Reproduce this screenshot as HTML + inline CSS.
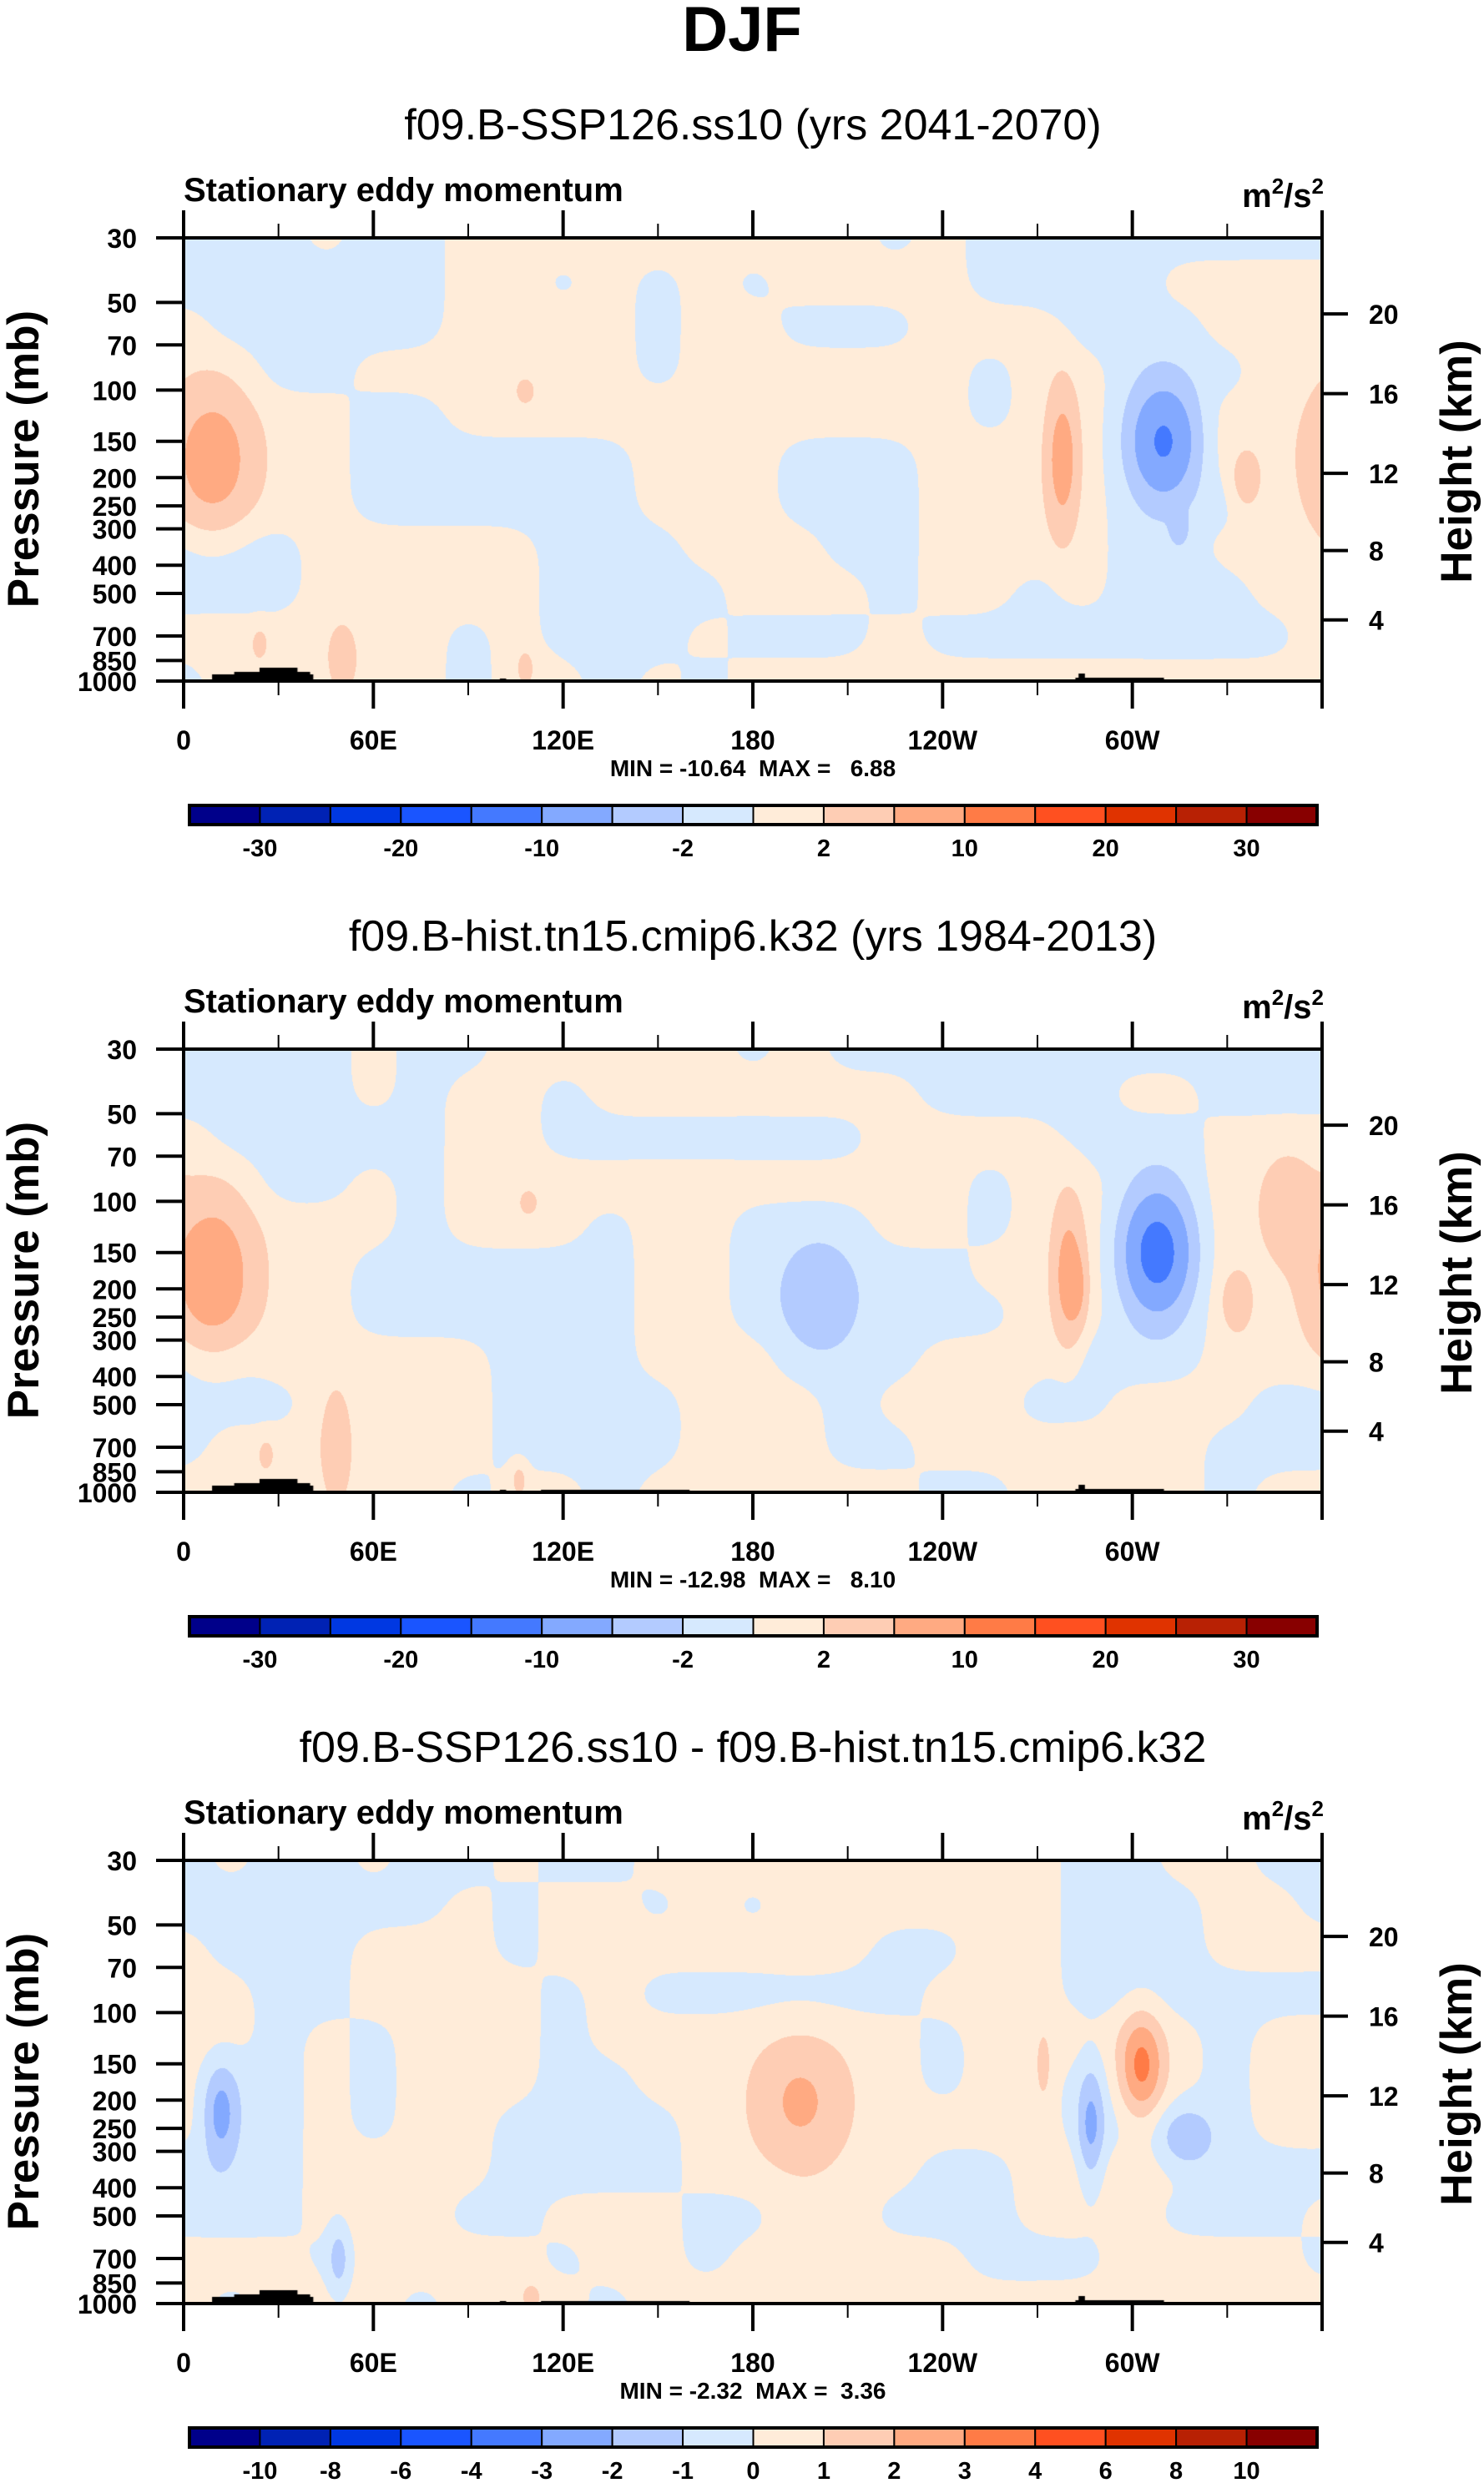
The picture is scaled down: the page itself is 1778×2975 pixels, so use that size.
<!DOCTYPE html>
<html><head><meta charset="utf-8">
<style>
html,body{margin:0;padding:0;background:#fff;}
#root{position:relative;width:1778px;height:2975px;overflow:hidden;background:#fff;}
canvas{position:absolute;}
svg{position:absolute;left:0;top:0;}
text{font-family:"Liberation Sans",Arial,sans-serif;}
</style></head>
<body>
<div id="root">
<canvas id="c0" width="1364" height="531" style="left:220px;top:285px"></canvas>
<canvas id="c1" width="1364" height="531" style="left:220px;top:1257px"></canvas>
<canvas id="c2" width="1364" height="531" style="left:220px;top:2229px"></canvas>
<svg id="ov" width="1778" height="2975" xmlns="http://www.w3.org/2000/svg">
<text x="889" y="61" font-size="76" font-weight="bold" text-anchor="middle">DJF</text>
</svg>
</div>
<script>
// ---------- DATA ----------
const pressureTicks=[30,50,70,100,150,200,250,300,400,500,700,850,1000];
const heightTicks=[4,8,12,16,20];
const lonTicks=[0,60,120,180,240,300];
const lonTickLabels=['0','60E','120E','180','120W','60W'];
const levelsAbs=[-30,-25,-20,-15,-10,-5,-2,0,2,5,10,15,20,25,30];
const levelsDiff=[-10,-8,-6,-4,-3,-2,-1,0,1,2,3,4,6,8,10];
const cbLabelsAbs=['-30','-20','-10','-2','2','10','20','30'];
const cbLabelIdxAbs=[1,3,5,7,9,11,13,15];
const cbLabelsDiff=['-10','-8','-6','-4','-3','-2','-1','0','1','2','3','4','6','8','10'];
const cbLabelIdxDiff=[1,2,3,4,5,6,7,8,9,10,11,12,13,14,15];
const palette=['#00008a','#0022b4','#0038e2','#1a55ff','#4479ff','#83a9ff','#b3cbff','#d6e9fe','#ffecd9','#fecdb4','#ffaa82','#ff7b46','#ff5020','#e03300','#b82104','#880000'];
const subtitles=['f09.B-SSP126.ss10 (yrs 2041-2070)','f09.B-hist.tn15.cmip6.k32 (yrs 1984-2013)','f09.B-SSP126.ss10 - f09.B-hist.tn15.cmip6.k32'];
const minmaxText=['MIN = -10.64  MAX =   6.88','MIN = -12.98  MAX =   8.10','MIN = -2.32  MAX =  3.36'];

// background sign grid: columns every 15 deg lon (0..360), rows evenly spaced in log-p (30mb top .. 1000mb bottom)
const grid1=[
[-1,-1,-1,1,-1,-1,1,1,1,1,1,1,1,1,1,-1,1,-1,-1,-1,-1,-1,-1,-1,-1],
[-1,-1,-1,-1,-1,-1,1,1,-1,1,-1,1,-1,1,1,1,1,-1,-1,-1,-1,1,1,1,1],
[1,-1,-1,-1,-1,-1,1,1,1,1,-1,1,1,-1,-1,-1,1,1,1,-1,-1,-1,1,1,1],
[1,1,-1,-1,1,1,1,1,1,1,-1,1,1,1,1,1,1,-1,1,1,-1,-1,-1,1,1],
[1,1,1,1,-1,-1,1,1,1,1,1,1,1,1,1,1,1,-1,1,1,-1,-1,1,1,1],
[1,1,1,1,-1,-1,-1,-1,-1,-1,1,1,1,-1,-1,-1,1,1,1,1,-1,-1,1,1,1],
[1,1,1,1,-1,-1,-1,-1,-1,-1,1,1,1,-1,-1,-1,1,1,1,1,-1,-1,-1,1,1],
[-1,-1,-1,1,1,1,1,1,-1,-1,-1,1,1,1,-1,-1,1,1,1,1,-1,-1,1,1,1],
[-1,-1,-1,1,1,1,1,1,-1,-1,-1,-1,1,1,1,-1,1,1,-1,1,-1,-1,-1,1,1],
[1,1,1,1,1,1,-1,1,-1,-1,-1,1,-1,-1,-1,1,-1,-1,-1,-1,-1,-1,-1,-1,1],
[-1,1,-1,1,1,1,-1,1,1,-1,1,-1,1,1,1,1,1,1,1,1,1,1,1,1,1]];
const grid2=[
[-1,-1,-1,-1,1,-1,-1,1,1,1,1,1,-1,1,-1,-1,-1,-1,-1,-1,-1,-1,-1,-1,-1],
[-1,-1,-1,-1,1,-1,1,1,-1,1,1,1,1,1,1,1,-1,-1,-1,-1,1,1,-1,-1,-1],
[1,-1,-1,-1,-1,-1,1,1,-1,-1,-1,-1,-1,-1,-1,1,1,1,1,-1,-1,-1,1,1,1],
[1,1,-1,-1,1,-1,1,1,1,1,1,1,1,1,1,1,1,-1,1,1,-1,-1,1,1,1],
[1,1,1,1,1,-1,1,1,1,-1,1,1,-1,-1,-1,1,1,-1,1,1,-1,-1,1,1,1],
[1,1,1,1,-1,-1,-1,-1,-1,-1,1,1,-1,-1,-1,-1,-1,1,1,1,-1,-1,1,1,1],
[1,1,1,1,-1,-1,-1,-1,-1,-1,1,1,-1,-1,-1,-1,-1,-1,1,1,-1,-1,1,1,1],
[-1,-1,1,1,1,1,1,-1,-1,-1,1,1,1,-1,-1,-1,1,1,1,-1,-1,-1,1,1,1],
[-1,-1,-1,1,1,1,1,-1,-1,-1,-1,1,1,1,-1,1,1,1,-1,-1,1,1,1,-1,-1],
[-1,1,1,1,1,1,1,-1,-1,-1,-1,1,1,1,-1,-1,1,1,1,1,1,1,-1,-1,-1],
[1,1,-1,1,1,1,-1,1,1,-1,1,1,1,1,1,1,-1,-1,1,1,1,1,-1,1,1]];
const grid3=[
[-1,1,-1,-1,1,-1,-1,1,-1,-1,1,1,1,1,1,1,1,1,1,-1,-1,1,1,-1,-1],
[-1,-1,-1,-1,-1,-1,1,-1,1,1,-1,1,-1,1,1,1,1,1,1,-1,-1,-1,1,1,-1],
[1,-1,-1,-1,1,1,1,-1,1,1,1,1,1,1,1,-1,-1,1,1,-1,-1,-1,1,1,1],
[1,1,-1,-1,1,1,1,1,-1,1,-1,-1,-1,-1,-1,-1,1,1,1,-1,-1,-1,-1,-1,-1],
[1,1,-1,1,-1,1,1,1,-1,1,1,1,1,1,1,1,-1,1,1,1,1,1,-1,1,1],
[1,-1,-1,1,-1,1,1,1,-1,-1,1,1,1,1,1,1,-1,1,1,-1,1,1,-1,1,1],
[1,-1,-1,1,-1,1,1,-1,-1,-1,-1,1,1,1,1,1,1,1,1,-1,-1,-1,-1,1,1],
[-1,-1,-1,1,1,1,1,-1,-1,-1,-1,1,1,1,1,1,-1,-1,1,1,1,1,-1,-1,-1],
[-1,-1,-1,1,1,1,-1,-1,1,1,1,-1,-1,1,1,-1,-1,-1,1,1,1,-1,-1,-1,1],
[1,1,1,-1,1,1,1,1,-1,1,1,-1,1,1,1,1,1,-1,-1,-1,1,1,1,1,-1],
[1,-1,1,1,1,-1,1,1,1,-1,1,1,1,1,1,1,1,1,1,1,1,1,1,1,1]];
const gridScale=[1,1,0.5];

// localized extrema (centre lon, centre pressure mb, amplitude)
const peakLon1=[9,310,278,336,108,50,24,108,315];
const peakP1=[173,150,173,206,101,838,754,900,303];
const peakAmp1=[6.4,-9.9,6.3,3.0,2.5,3.2,2.5,2.5,-2.6];
const peakSpreadLon1=[9,7,3.5,3.5,2,3,2,2,2];
const peakSpreadP1=[0.11,0.085,0.11,0.05,0.02,0.05,0.03,0.03,0.025];

const peakLon2=[9,349,308,280,283,333,201,109,48,26,106];
const peakP2=[179,106,150,179,200,221,213,101,704,754,900];
const peakAmp2=[7.2,3.0,-12.2,6.2,2.5,3.0,-3.4,2.4,4.0,2.5,2.5];
const peakSpreadLon2=[9,6,7,3.5,2,3.5,8,2,3,2,2];
const peakSpreadP2=[0.12,0.08,0.09,0.11,0.05,0.05,0.08,0.02,0.08,0.03,0.03];

const peakLon3=[11.5,195,303,287,317,272,49,110];
const peakP3=[221,203,153,250,273,153,704,949];
const peakAmp3=[-2.2,1.7,2.9,-2.1,-1.6,1.3,-1.5,1.3];
const peakSpreadLon3=[4,11,5,3,6,1.5,2.5,2];
const peakSpreadP3=[0.08,0.11,0.09,0.1,0.05,0.05,0.06,0.02];

// ---------- LAYOUT ----------
const PL=220, PR=1584, PW=PR-PL, PH=531;
const panelTops=[285,1257,2229];
const LNP=Math.log(1000/30);
function fyOfP(p){return Math.log(p/30)/LNP;}
function yOfP(top,p){return top+fyOfP(p)*PH;}
function xOfLon(l){return PL+l/360*PW;}
function pOfKm(z){const m=z*1000;return m<=11000?1013.25*Math.pow(1-2.25577e-5*m,5.2559):226.32*Math.exp(-(m-11000)/6341.6);}

const panels=[
 {grid:grid1,lon:peakLon1,p:peakP1,amp:peakAmp1,sl:peakSpreadLon1,sp:peakSpreadP1,levels:levelsAbs},
 {grid:grid2,lon:peakLon2,p:peakP2,amp:peakAmp2,sl:peakSpreadLon2,sp:peakSpreadP2,levels:levelsAbs},
 {grid:grid3,lon:peakLon3,p:peakP3,amp:peakAmp3,sl:peakSpreadLon3,sp:peakSpreadP3,levels:levelsDiff}];

function hexToRgb(h){return [parseInt(h.substr(1,2),16),parseInt(h.substr(3,2),16),parseInt(h.substr(5,2),16)];}
const palRgb=palette.map(hexToRgb);
const SIG=0.55;

panels.forEach((pn,k)=>{
  const cv=document.getElementById('c'+k); const ctx=cv.getContext('2d');
  const img=ctx.createImageData(PW,PH);
  const g=pn.grid, nC=g[0].length, nR=g.length;
  const wx=[];
  for(let x=0;x<PW;x++){
    const gx=x/(PW-1)*(nC-1); const w=new Float32Array(nC); let s=0;
    for(let i=0;i<nC;i++){const d=(gx-i)/SIG;const v=Math.exp(-0.5*d*d);w[i]=v;s+=v;}
    for(let i=0;i<nC;i++)w[i]/=s;
    wx.push(w);
  }
  const blobX=[];
  for(let b=0;b<pn.amp.length;b++){
    const arr=new Float32Array(PW);
    for(let x=0;x<PW;x++){let dl=Math.abs(x/(PW-1)*360-pn.lon[b]); if(dl>180)dl=360-dl; arr[x]=Math.exp(-dl*dl/(2*pn.sl[b]*pn.sl[b]));}
    blobX.push(arr);
  }
  const row=new Float32Array(nC);
  for(let y=0;y<PH;y++){
    const fy=y/(PH-1); const gy=fy*(nR-1);
    let s=0; const wy=[];
    for(let j=0;j<nR;j++){const d=(gy-j)/SIG;const v=Math.exp(-0.5*d*d);wy.push(v);s+=v;}
    for(let i=0;i<nC;i++){let acc=0;for(let j=0;j<nR;j++)acc+=wy[j]*g[j][i];row[i]=acc/s*gridScale[k];}
    const by=pn.amp.map((a,b)=>{const df=fy-fyOfP(pn.p[b]);return a*Math.exp(-df*df/(2*pn.sp[b]*pn.sp[b]));});
    for(let x=0;x<PW;x++){
      const w=wx[x]; let v=0;
      for(let i=0;i<nC;i++)v+=w[i]*row[i];
      for(let b=0;b<by.length;b++)v+=by[b]*blobX[b][x];
      let c=0; while(c<pn.levels.length && v>=pn.levels[c]) c++;
      const rgb=palRgb[c]; const o=(y*PW+x)*4;
      img.data[o]=rgb[0];img.data[o+1]=rgb[1];img.data[o+2]=rgb[2];img.data[o+3]=255;
    }
  }
  ctx.putImageData(img,0,0);
  ctx.fillStyle='#000';
  const tx=l=>l/360*PW;
  ctx.fillRect(tx(9),PH-8,tx(41)-tx(9),8);
  ctx.fillRect(tx(16),PH-11,tx(40)-tx(16),11);
  ctx.fillRect(tx(24),PH-16,tx(36)-tx(24),16);
  ctx.fillRect(tx(100),PH-3,tx(102)-tx(100),3);
  ctx.fillRect(tx(282),PH-4,tx(310)-tx(282),4);
  ctx.fillRect(tx(283),PH-9,tx(285)-tx(283),9);
  if(k>0){ctx.fillRect(tx(113),PH-3,tx(160)-tx(113),3);}
});

// ---------- SVG AXES ----------
const NS='http://www.w3.org/2000/svg';
const ov=document.getElementById('ov');
function mk(tag,attrs,parent){const e=document.createElementNS(NS,tag);for(const a in attrs)e.setAttribute(a,attrs[a]);(parent||ov).appendChild(e);return e;}

panelTops.forEach((top,k)=>{
  const off=top-285;
  const g=mk('g',{});
  
  
  const st=mk('text',{x:902,y:167+off,'font-size':52,'text-anchor':'middle'},g);
  st.textContent=subtitles[k];
  
  
  const lt=mk('text',{x:220,y:241+off,'font-size':40,'font-weight':'bold'},g);
  lt.textContent='Stationary eddy momentum';
  
  
  const un=mk('text',{x:1586,y:248+off,'font-size':40,'font-weight':'bold','text-anchor':'end'},g);
  un.innerHTML='m<tspan dy="-16" font-size="26">2</tspan><tspan dy="16">/s</tspan><tspan dy="-16" font-size="26">2</tspan>';
  
  
  const fr=mk('rect',{x:PL,y:top,width:PW,height:PH,fill:'none',stroke:'#000','stroke-width':4},g);
  
  
  for(let l=0;l<=360;l+=30){
    const x=xOfLon(l); const major=(l%60===0); const len=major?33:17; const w=major?4:2;
    const t1=mk('line',{x1:x,y1:top,x2:x,y2:top-len,stroke:'#000','stroke-width':w},g);
    
    
    const t2=mk('line',{x1:x,y1:top+PH,x2:x,y2:top+PH+len,stroke:'#000','stroke-width':w},g);
    
    
  }
  lonTicks.forEach((l,i)=>{
    const t=mk('text',{x:xOfLon(l),y:top+PH+82,'font-size':32,'font-weight':'bold','text-anchor':'middle'},g);
    t.textContent=lonTickLabels[i];
    
    
  });
  pressureTicks.forEach(p=>{
    const y=yOfP(top,p);
    const ln=mk('line',{x1:PL-33,y1:y,x2:PL,y2:y,stroke:'#000','stroke-width':4},g);
    
    
    const t=mk('text',{x:164,y:y+12,'font-size':32,'font-weight':'bold','text-anchor':'end'},g);
    t.textContent=String(p);
    
    
  });
  heightTicks.forEach(z=>{
    const y=yOfP(top,pOfKm(z));
    const ln=mk('line',{x1:PR,y1:y,x2:PR+31,y2:y,stroke:'#000','stroke-width':4},g);
    
    
    const t=mk('text',{x:1640,y:y+12,'font-size':32,'font-weight':'bold'},g);
    t.textContent=String(z);
    
    
  });
  const ya=mk('text',{x:0,y:0,'font-size':53,'font-weight':'bold','text-anchor':'middle',transform:'translate(46,'+(550+off)+') rotate(-90)'},g);
  ya.textContent='Pressure (mb)';
  
  
  const yb=mk('text',{x:0,y:0,'font-size':53,'font-weight':'bold','text-anchor':'middle',transform:'translate(1763,'+(553+off)+') rotate(-90)'},g);
  yb.textContent='Height (km)';
  
  
  const mm=mk('text',{x:902,y:930+off,'font-size':28,'font-weight':'bold','text-anchor':'middle'},g);
  mm.style.whiteSpace='pre';
  mm.textContent=minmaxText[k];
  
  
  const cb=mk('g',{},g);
  
  
  const cx0=227, cx1=1578, cw=(cx1-cx0)/16, cy=965+off;
  palette.forEach((c,i)=>{
    const r=mk('rect',{x:cx0+i*cw,y:cy,width:cw,height:23,fill:c,stroke:'#000','stroke-width':2},cb);
    
    
  });
  const fr2=mk('rect',{x:cx0,y:cy,width:cx1-cx0,height:23,fill:'none',stroke:'#000','stroke-width':4},cb);
  
  
  const labs=k<2?cbLabelsAbs:cbLabelsDiff, idx=k<2?cbLabelIdxAbs:cbLabelIdxDiff;
  labs.forEach((s,i)=>{
    const t=mk('text',{x:cx0+idx[i]*cw,y:cy+61,'font-size':29,'font-weight':'bold','text-anchor':'middle'},cb);
    t.textContent=s;
    
    
  });
});
</script>
</body></html>
